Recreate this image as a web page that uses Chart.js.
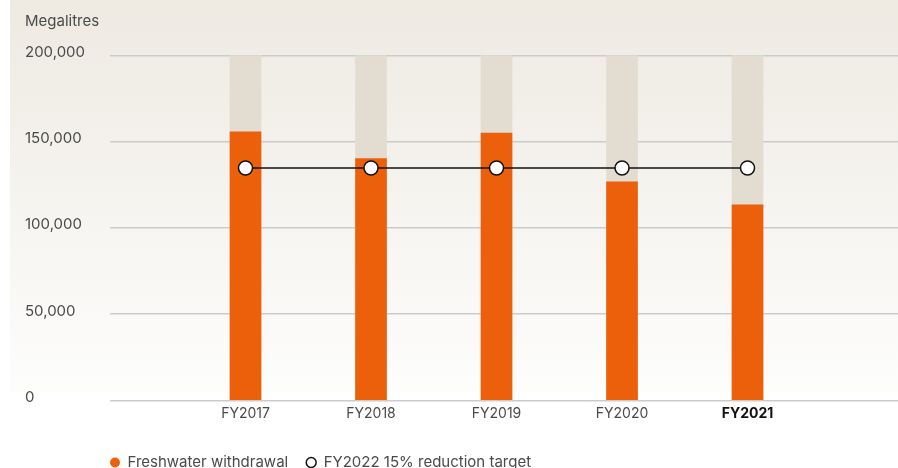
<!DOCTYPE html>
<html><head><meta charset="utf-8">
<script src="https://cdn.jsdelivr.net/npm/chart.js@4"></script>
<style>html,body{margin:0;padding:0;background:#fff}#wrap{width:898px;height:468px}</style>
</head><body><div id="wrap"><canvas id="c" width="898" height="468"></canvas></div>
<script>
const categories = ['FY2017','FY2018','FY2019','FY2020','FY2021'];
const freshwaterWithdrawal = [155700, 140100, 155000, 126700, 113400];
const reductionTarget = [134700, 134700, 134700, 134700, 134700];
const scaleCeiling = [200000, 200000, 200000, 200000, 200000];
const yTicks = [0, 50000, 100000, 150000, 200000];
const highlightCategory = 'FY2021';

const FONT = 'Inter, "Noto Sans", sans-serif';
const toXY = arr => arr.map((v, i) => ({x: i, y: v}));

const bgPlugin = {
  id: 'bgPanel',
  beforeDraw(chart) {
    const ctx = chart.ctx;
    const g = ctx.createLinearGradient(0, 0, 0, 392);
    g.addColorStop(0, '#eeeae2');
    g.addColorStop(1, '#fdfdfc');
    ctx.save();
    ctx.fillStyle = g;
    ctx.fillRect(10, 0, chart.width - 10, 392);
    ctx.restore();
  }
};
const legendShift = {
  id: 'legendShift',
  afterLayout(chart) {
    const l = chart.legend;
    const w = l.right - l.left, h = l.bottom - l.top;
    l.left = 92; l.right = 92 + w;
    l.top = 437; l.bottom = 437 + h;
  }
};

new Chart(document.getElementById('c'), {
  type: 'bar',
  data: {
    datasets: [
      {
        type: 'line',
        label: 'FY2022 15% reduction target',
        data: toXY(reductionTarget),
        borderColor: '#111',
        borderWidth: 1.5,
        pointRadius: 7,
        pointBackgroundColor: '#fff',
        pointBorderColor: '#111',
        pointBorderWidth: 1.5,
        fill: false,
        order: 0
      },
      {
        label: 'Freshwater withdrawal',
        data: toXY(freshwaterWithdrawal),
        backgroundColor: '#ec600c',
        barThickness: 31,
        grouped: false,
        order: 1
      },
      {
        label: 'ceiling',
        data: toXY(scaleCeiling),
        backgroundColor: '#e2ddd0',
        barThickness: 31,
        grouped: false,
        order: 2
      }
    ]
  },
  options: {
    responsive: false,
    devicePixelRatio: 1,
    animation: false,
    layout: { autoPadding: false, padding: { left: 25, right: 0, top: 0, bottom: 0 } },
    scales: {
      x: {
        type: 'linear',
        offset: false,
        min: -1.0797,
        max: 5.199,
        afterBuildTicks: s => { s.ticks = categories.map((c, i) => ({value: i})); },
        afterFit: s => { s.height = 24.5; },
        grid: { display: false, drawTicks: false },
        border: { display: false },
        ticks: {
          autoSkip: false,
          maxRotation: 0,
          padding: 5,
          callback: v => categories[v] ?? '',
          font: ctx => ({ family: FONT, size: 14, weight: (ctx.tick && categories[ctx.tick.value] === highlightCategory) ? 'bold' : 'normal' }),
          color: ctx => (ctx.tick && categories[ctx.tick.value] === highlightCategory) ? '#111' : '#4a4a4a'
        }
      },
      y: {
        min: 0,
        max: 200000,
        afterBuildTicks: s => { s.ticks = yTicks.map(v => ({value: v})); },
        afterFit: s => { s.width = 85; },
        grid: { color: '#cbcbcb', lineWidth: 1.5, drawTicks: false },
        border: { display: false },
        ticks: {
          crossAlign: 'far',
          labelOffset: -3,
          padding: 0,
          font: { family: FONT, size: 15 },
          color: '#4a4a4a',
          callback: v => v.toLocaleString('en-US')
        }
      }
    },
    plugins: {
      title: {
        display: true,
        text: 'Megalitres',
        align: 'start',
        color: '#4a4a4a',
        font: { family: FONT, size: 15, weight: 'normal' },
        padding: { top: 12, bottom: 25.3 }
      },
      legend: {
        position: 'bottom',
        align: 'start',
        labels: {
          usePointStyle: true,
          pointStyle: 'circle',
          boxWidth: 10,
          boxHeight: 7,
          padding: 18,
          color: '#4a4a4a',
          font: { family: FONT, size: 15 },
          filter: item => item.text !== 'ceiling'
        },
        reverse: true
      },
      tooltip: { enabled: false }
    }
  },
  plugins: [bgPlugin, legendShift]
});
</script></body></html>
